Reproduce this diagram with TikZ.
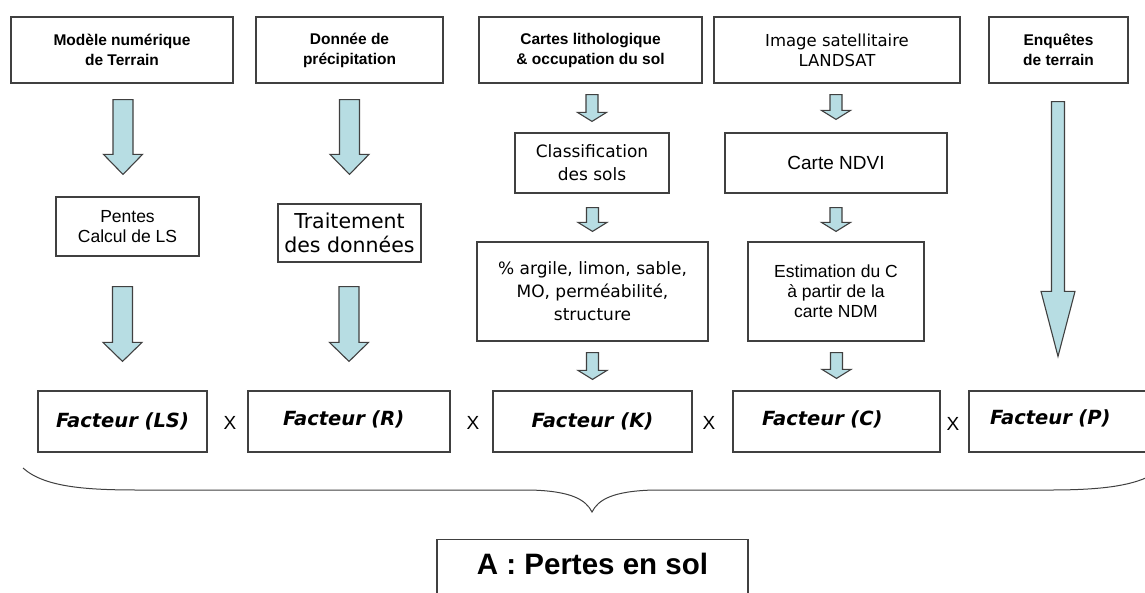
\documentclass[tikz,border=0pt]{standalone}
\usepackage{fontspec}
\setmainfont{Liberation Sans}
\newfontfamily\dejavu{DejaVu Sans}
\usepackage{tikz}
\usetikzlibrary{calc}
\definecolor{bleuflec}{HTML}{B7DDE3}
\definecolor{trait}{HTML}{404040}

% fleche pleine entre deux boites: [decalage x] depart, arrivee,
% ecart haut, ecart bas, demi-largeur tige, demi-largeur tete, longueur tete
\newcommand{\fleche}[8][0]{%
  \filldraw[fleche] let \p1=(#2.south), \p2=(#3.north) in
    (\x2+#1pt-#6pt,\y1-#4pt) -- (\x2+#1pt+#6pt,\y1-#4pt)
    -- (\x2+#1pt+#6pt,\y2+#5pt+#8pt) -- (\x2+#1pt+#7pt,\y2+#5pt+#8pt)
    -- (\x2+#1pt,\y2+#5pt) -- (\x2+#1pt-#7pt,\y2+#5pt+#8pt)
    -- (\x2+#1pt-#6pt,\y2+#5pt+#8pt) -- cycle;}

\begin{document}
\begin{tikzpicture}[x=1pt, y=1pt,
  boite/.style={draw=trait, line width=1.2pt, fill=white, inner sep=0pt, align=center},
  haut/.style={boite, minimum height=66pt, font=\fontsize{15.5}{20}\selectfont\bfseries},
  moyen/.style={boite, font=\fontsize{17.5}{20}\selectfont},
  tahoma/.style={boite, font=\dejavu\fontsize{17}{23}\selectfont},
  facteur/.style={boite, minimum height=61pt, font=\dejavu\fontsize{19.5}{24}\bfseries\itshape\selectfont},
  fois/.style={font=\fontsize{19}{20}\selectfont},
  fleche/.style={fill=bleuflec, draw=trait, line width=1.1pt, line join=miter}]
\useasboundingbox (0,0) rectangle (1145,-592);

% sources
\node[haut, minimum width=222pt] (mnt) at (122,-50) {Modèle numérique\\de Terrain};
\node[haut, minimum width=187pt] (precip) at (349.5,-50) {Donnée de\\précipitation};
\node[haut, minimum width=223pt] (carto) at (590.5,-50) {Cartes lithologique\\\& occupation du sol};
\node[boite, minimum width=246pt, minimum height=66pt,
  font=\dejavu\fontsize{16.5}{20}\selectfont] (landsat) at (837,-50) {Image satellitaire\\LANDSAT};
\node[haut, minimum width=139pt] (enquete) at (1058.5,-50) {Enquêtes\\de terrain};

% traitements
\node[moyen, minimum width=143pt, minimum height=59pt] (pentes) at (127.5,-226.5) {Pentes\\Calcul de LS};
\node[tahoma, minimum width=143pt, minimum height=58pt,
  font=\dejavu\fontsize{20.5}{24}\selectfont] (traitmt) at (349.5,-233) {Traitement\\des données};
\node[tahoma, minimum width=154pt, minimum height=60pt] (classif) at (592,-163) {Classification\\des sols};
\node[moyen, minimum width=222pt, minimum height=60pt,
  font=\fontsize{19}{22}\selectfont] (ndvi) at (836,-163) {Carte NDVI};
\node[tahoma, minimum width=231pt, minimum height=99pt] (granulo) at (592.5,-291.5)
  {\% argile, limon, sable,\\MO, perméabilité,\\structure};
\node[moyen, minimum width=176pt, minimum height=99pt] (estim) at (836,-291.5)
  {Estimation du C\\à partir de la\\carte NDM};

% facteurs
\node[facteur, minimum width=169pt] (fls) at (122.5,-421.5) {Facteur (LS)};
\node[facteur, text width=132pt, inner xsep=35pt, align=left, text depth=6pt] (fr) at (349,-421.5) {Facteur (R)};
\node[facteur, minimum width=199pt] (fk) at (592.5,-421.5) {Facteur (K)};
\node[facteur, text width=149pt, inner xsep=29pt, align=left, text depth=7pt] (fc) at (836.5,-421.5) {Facteur (C)};
\node[facteur, text width=136pt, inner xsep=21pt, align=left, text depth=8pt] (fp) at (1058,-421.5) {Facteur (P)};

\node[fois] (x1) at (230,-423) {X};
\node[fois] (x2) at (473,-423) {X};
\node[fois] (x3) at (709,-423) {X};
\node[fois] (x4) at (953,-424) {X};

\node[boite, minimum width=311pt, anchor=north, text height=21pt, text depth=30pt,
  inner ysep=14pt, font=\fontsize{29.5}{30}\selectfont\bfseries] (pertes) at (592.5,-539) {A : Pertes en sol};

% fleches
\fleche[-4.5]{mnt}{pentes}{16}{22}{10}{19.5}{20}
\fleche{precip}{traitmt}{16}{29}{10}{19.5}{20}
\fleche{pentes}{fls}{30}{29}{10}{19.5}{19}
\fleche{traitmt}{fr}{24}{29}{10}{19.5}{19}
\fleche{carto}{classif}{11}{11}{6}{14.5}{9}
\fleche{classif}{granulo}{14}{10}{6}{14.5}{9}
\fleche{granulo}{fk}{11}{11}{6}{14.5}{9}
\fleche{landsat}{ndvi}{11}{13}{6}{14.5}{9}
\fleche{ndvi}{estim}{14}{10}{6}{14.5}{9}
\fleche{estim}{fc}{11}{12}{6}{14.5}{9}
\fleche{enquete}{fp}{18}{34}{6.5}{17}{65}

% accolade
\draw[trait, line width=1pt] (23,-468) .. controls (45,-488) and (90,-490) .. (140,-490)
  -- (530,-490) .. controls (572,-491) and (586,-500) .. (592,-512)
  .. controls (598,-500) and (612,-491) .. (654,-490) -- (1050,-490)
  .. controls (1100,-490) and (1130,-486) .. (1150,-476);
\end{tikzpicture}
\end{document}
